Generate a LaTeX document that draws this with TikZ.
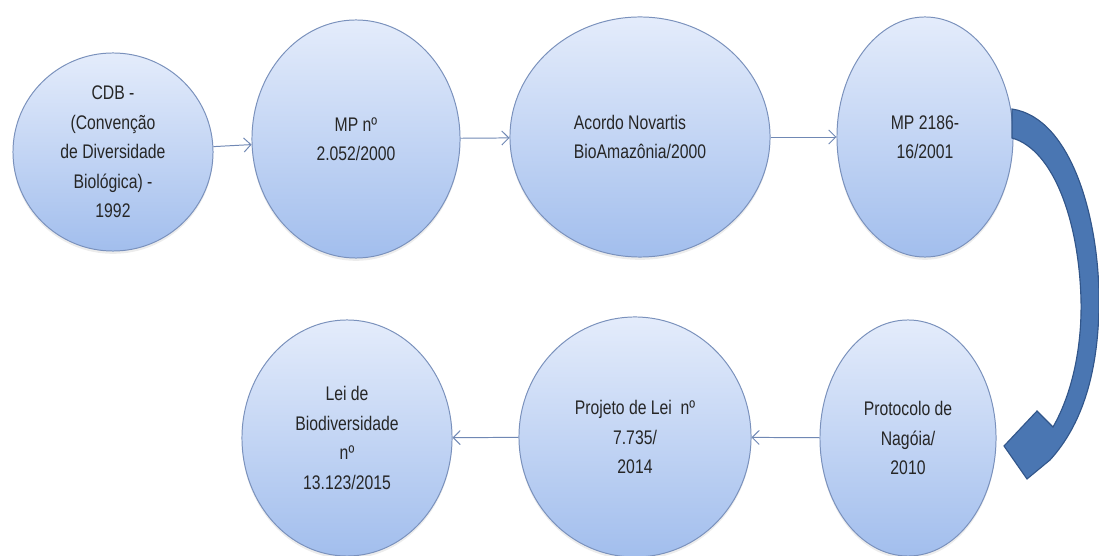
\documentclass[tikz,border=0pt]{standalone}
\usepackage{fontspec}
\setmainfont{Liberation Sans}[FakeStretch=0.8]
\usetikzlibrary{shapes.geometric,arrows.meta,shadows}

\definecolor{bolaTopo}{RGB}{228,236,251}
\definecolor{bolaBase}{RGB}{162,190,237}
\definecolor{bolaBorda}{RGB}{122,145,188}
\definecolor{seta}{RGB}{112,136,180}
\definecolor{setaGrande}{RGB}{74,118,178}
\definecolor{setaBorda}{RGB}{50,86,138}

\tikzset{
  bola/.style={ellipse, draw=bolaBorda, line width=0.7pt,
    top color=bolaTopo, bottom color=bolaBase, inner sep=0pt,
    align=center, text=black!85, font=\fontsize{14}{21}\selectfont,
    drop shadow={opacity=0.15, shadow xshift=0pt, shadow yshift=-2pt}},
  ligacao/.style={draw=seta, line width=0.7pt, -{Straight Barb[length=5pt,width=10pt]}}
}

\begin{document}
\begin{tikzpicture}[x=0.025cm, y=-0.025cm]
    \useasboundingbox (0,0) rectangle (1099,556);

    % linha de cima
    \node[bola, minimum width=5cm, minimum height=4.95cm, inner ysep=-4pt] (cdb) at (113,152)
        {CDB -\\(Convenção\\de Diversidade\\Biológica) -\\1992};
    \node[bola, minimum width=5.2cm, minimum height=5.95cm] (mp1) at (356,139)
        {MP nº\\2.052/2000};
    \node[bola, minimum width=6.5cm, minimum height=6cm, align=left] (acordo) at (640,137)
        {Acordo Novartis\\BioAmazônia/2000};
    \node[bola, minimum width=4.4cm, minimum height=6cm] (mp2) at (925,137)
        {MP 2186-\\16/2001};

    % linha de baixo
    \node[bola, minimum width=4.4cm, minimum height=5.9cm] (proto) at (908,438)
        {Protocolo de\\Nagóia/\\2010};
    \node[bola, minimum width=5.8cm, minimum height=6cm] (projeto) at (635,437)
        {Projeto de Lei~ nº\\7.735/\\2014};
    \node[bola, minimum width=5.25cm, minimum height=5.9cm] (lei) at (347,438)
        {Lei de\\Biodiversidade\\nº\\13.123/2015};

    % ligacoes
    \draw[ligacao] (cdb) -- (mp1);
    \draw[ligacao] (mp1) -- (acordo);
    \draw[ligacao] (acordo) -- (mp2);
    \draw[ligacao] (proto) -- (projeto);
    \draw[ligacao] (projeto) -- (lei);

    % seta curva
    \filldraw[fill=setaGrande, draw=setaBorda, line width=0.8pt]
        (1012,109) .. controls (1072,118) and (1099,220) .. (1099,300)
        .. controls (1099,372) and (1082,425) .. (1050,460)
        -- (1027,479) -- (1004,446) -- (1037,411) -- (1053,427)
        .. controls (1073,392) and (1082,345) .. (1081,300)
        .. controls (1079,222) and (1054,150) .. (1012,138) -- cycle;
\end{tikzpicture}
\end{document}
